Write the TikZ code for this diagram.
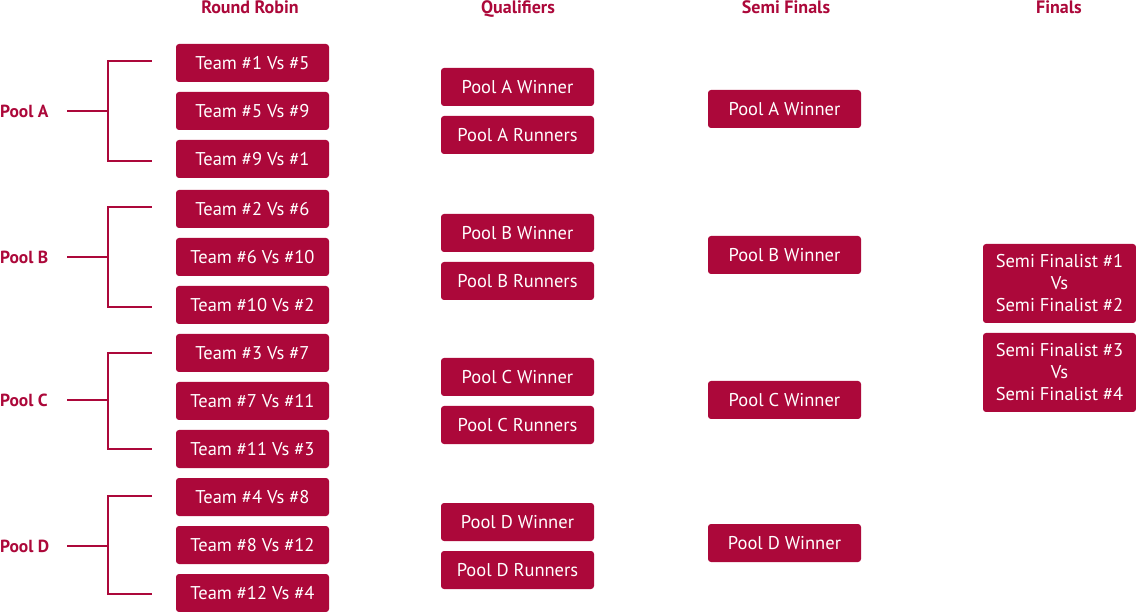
\documentclass[tikz,border=0pt]{standalone}
\usepackage{fontspec}
\setmainfont{PT Sans}
\definecolor{crimson}{RGB}{172,8,58}
\begin{document}
\begin{tikzpicture}[x=1pt,y=-1pt]
        \tikzstyle{game}=[rectangle,rounded corners=3pt,fill=crimson,text=white,minimum width=153pt,minimum height=38pt,inner sep=0pt,font=\fontsize{18.5}{22}\selectfont]
        \tikzstyle{final}=[game,minimum height=79pt,align=center]
        \tikzstyle{stage}=[text=crimson,font=\fontsize{18}{22}\selectfont\bfseries,inner sep=0pt,anchor=base]
        \tikzstyle{pool}=[text=crimson,font=\fontsize{17.5}{22}\selectfont\bfseries,anchor=west,inner sep=0pt]
        \tikzstyle{bracket}=[draw=crimson,line width=2.7pt]
        \useasboundingbox (0,0) rectangle (1136,612);
        % headings
        \node [stage] (h1) at (250,14) {Round Robin};
        \node [stage] (h2) at (518,14) {Qualifiers};
        \node [stage] (h3) at (786,14) {Semi Finals};
        \node [stage] (h4) at (1059,14) {Finals};
        % round robin
        \node [game] (rr1) at (252.5,63) {Team \#1 Vs \#5};
        \node [game] (rr2) at (252.5,111) {Team \#5 Vs \#9};
        \node [game] (rr3) at (252.5,159) {Team \#9 Vs \#1};
        \node [game] (rr4) at (252.5,209) {Team \#2 Vs \#6};
        \node [game] (rr5) at (252.5,257) {Team \#6 Vs \#10};
        \node [game] (rr6) at (252.5,305) {Team \#10 Vs \#2};
        \node [game] (rr7) at (252.5,353) {Team \#3 Vs \#7};
        \node [game] (rr8) at (252.5,401) {Team \#7 Vs \#11};
        \node [game] (rr9) at (252.5,449) {Team \#11 Vs \#3};
        \node [game] (rr10) at (252.5,497) {Team \#4 Vs \#8};
        \node [game] (rr11) at (252.5,545) {Team \#8 Vs \#12};
        \node [game] (rr12) at (252.5,593) {Team \#12 Vs \#4};
        % pools
        \node [pool] (pA) at (0,111) {Pool A};
        \node [pool] (pB) at (0,257) {Pool B};
        \node [pool] (pC) at (0,400) {Pool C};
        \node [pool] (pD) at (0,546) {Pool D};
        \coordinate (sA) at (67,111);  \coordinate (jA) at (108,111);
        \coordinate (sB) at (67,257);  \coordinate (jB) at (108,257);
        \coordinate (sC) at (67,400);  \coordinate (jC) at (108,400);
        \coordinate (sD) at (67,546);  \coordinate (jD) at (108,546);
        \path[bracket] (sA) -- (jA);
        \path[bracket] (jA) |- ([xshift=-24pt,yshift=2pt]rr1.west);
        \path[bracket] (jA) |- ([xshift=-24pt,yshift=-2pt]rr3.west);
        \path[bracket] (sB) -- (jB);
        \path[bracket] (jB) |- ([xshift=-24pt,yshift=2pt]rr4.west);
        \path[bracket] (jB) |- ([xshift=-24pt,yshift=-2pt]rr6.west);
        \path[bracket] (sC) -- (jC);
        \path[bracket] (jC) |- ([xshift=-24pt]rr7.west);
        \path[bracket] (jC) |- ([xshift=-24pt]rr9.west);
        \path[bracket] (sD) -- (jD);
        \path[bracket] (jD) |- ([xshift=-24pt,yshift=1pt]rr10.west);
        \path[bracket] (jD) |- ([xshift=-24pt,yshift=-1pt]rr12.west);
        % qualifiers
        \node [game] (q1) at (517.5,87) {Pool A Winner};
        \node [game] (q2) at (517.5,135) {Pool A Runners};
        \node [game] (q3) at (517.5,233) {Pool B Winner};
        \node [game] (q4) at (517.5,281) {Pool B Runners};
        \node [game] (q5) at (517.5,377) {Pool C Winner};
        \node [game] (q6) at (517.5,425) {Pool C Runners};
        \node [game] (q7) at (517.5,522) {Pool D Winner};
        \node [game] (q8) at (517.5,570) {Pool D Runners};
        % semi finals
        \node [game] (s1) at (784.5,109) {Pool A Winner};
        \node [game] (s2) at (784.5,255) {Pool B Winner};
        \node [game] (s3) at (784.5,400) {Pool C Winner};
        \node [game] (s4) at (784.5,543) {Pool D Winner};
        % finals
        \node [final] (f1) at (1059.5,283.5) {Semi Finalist \#1\\Vs\\Semi Finalist \#2};
        \node [final] (f2) at (1059.5,372.5) {Semi Finalist \#3\\Vs\\Semi Finalist \#4};
\end{tikzpicture}
\end{document}
